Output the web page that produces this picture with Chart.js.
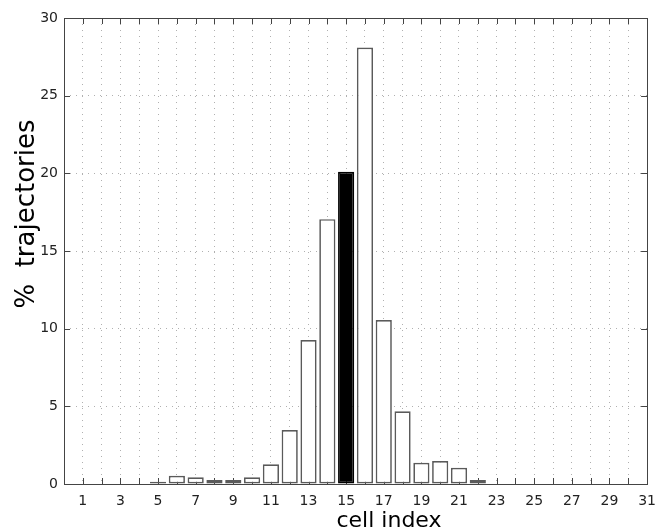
<!DOCTYPE html>
<html>
<head>
<meta charset="utf-8">
<script src="https://cdn.jsdelivr.net/npm/chart.js@4/dist/chart.umd.min.js"></script>
<style>
  html, body { margin: 0; padding: 0; background: #fff; }
  canvas { display: block; }
</style>
</head>
<body>
<canvas id="cellChart" width="665" height="532"></canvas>
<script>
// Cell indices and % of trajectories per cell
const cells = [1, 2, 3, 4, 5, 6, 7, 8, 9, 10, 11, 12, 13, 14, 15, 16, 17, 18, 19, 20, 21, 22, 23, 24, 25, 26, 27, 28, 29, 30];
const percents = [0, 0, 0, 0, 0.15, 0.53, 0.43, 0.26, 0.26, 0.43, 1.27, 3.48, 9.27, 17.05, 20.1, 28.1, 10.56, 4.68, 1.37, 1.48, 1.05, 0.26, 0, 0, 0, 0, 0, 0, 0, 0];
const highlightCell = 15;
const xTitle = 'cell index';
const yTitle = '%  trajectories';

// Inward tick marks (under the bars), box around the plot and the two axis titles
const matlabAxes = {
    id: 'matlabAxes',
    beforeDatasetsDraw(chart) {
        const { ctx, chartArea: a, scales: { x, y } } = chart;
        const len = 6;
        ctx.save();
        ctx.strokeStyle = '#444';
        ctx.lineWidth = 1;
        ctx.beginPath();
        x.ticks.forEach(t => {
            const px = Math.round(x.getPixelForValue(t.value)) + 0.5;
            ctx.moveTo(px, a.bottom); ctx.lineTo(px, a.bottom - len);
            ctx.moveTo(px, a.top); ctx.lineTo(px, a.top + len);
        });
        y.ticks.forEach(t => {
            const py = Math.round(y.getPixelForValue(t.value)) + 0.5;
            ctx.moveTo(a.left, py); ctx.lineTo(a.left + len, py);
            ctx.moveTo(a.right, py); ctx.lineTo(a.right - len, py);
        });
        ctx.stroke();
        ctx.restore();
    },
    afterDatasetsDraw(chart) {
        const { ctx, chartArea: a } = chart;
        ctx.save();
        ctx.strokeStyle = '#444';
        ctx.lineWidth = 1;
        ctx.strokeRect(Math.round(a.left) + 0.5, Math.round(a.top) + 0.5,
            Math.round(a.right - a.left), Math.round(a.bottom - a.top));
        ctx.restore();
    },
    afterDraw(chart) {
        const { ctx } = chart;
        ctx.save();
        ctx.fillStyle = '#000';
        ctx.textAlign = 'center';
        ctx.textBaseline = 'alphabetic';
        ctx.font = '22px "DejaVu Sans"';
        ctx.fillText(xTitle, 389, 527);
        ctx.translate(34, 214);
        ctx.rotate(-Math.PI / 2);
        ctx.font = '26px "DejaVu Sans"';
        ctx.fillText(yTitle, 0, 0);
        ctx.restore();
    }
};

const gridStyle = { color: '#b0b0b0', lineWidth: 1, drawTicks: false, offset: false };

new Chart(document.getElementById('cellChart').getContext('2d'), {
    type: 'bar',
    data: {
        datasets: [{
            data: cells.map((c, i) => ({ x: c, y: percents[i] })),
            backgroundColor: cells.map(c => c === highlightCell ? '#000' : '#fff'),
            borderColor: cells.map(c => c === highlightCell ? '#000' : '#5a5a5a'),
            borderWidth: 1.7,
            borderSkipped: false,
            barPercentage: 0.86,
            categoryPercentage: 1
        }]
    },
    options: {
        responsive: false,
        animation: false,
        devicePixelRatio: 1,
        layout: { padding: { left: 0, right: 9, top: 18, bottom: 0 } },
        plugins: { legend: { display: false }, tooltip: { enabled: false } },
        scales: {
            x: {
                type: 'linear',
                min: 0,
                max: 31,
                offset: false,
                grid: gridStyle,
                border: { display: false, dash: [1, 5] },
                ticks: {
                    stepSize: 1,
                    autoSkip: false,
                    maxRotation: 0,
                    padding: 9,
                    color: '#222',
                    font: { family: 'DejaVu Sans', size: 14 },
                    callback: v => (v % 2 === 1 ? String(v) : '')
                },
                afterFit: s => { s.height = 48; }
            },
            y: {
                min: 0,
                max: 30,
                grid: gridStyle,
                border: { display: false, dash: [1, 5] },
                ticks: {
                    stepSize: 5,
                    padding: 6,
                    color: '#222',
                    font: { family: 'DejaVu Sans', size: 14 }
                },
                afterFit: s => { s.width = 64; }
            }
        }
    },
    plugins: [matlabAxes]
});
</script>
</body>
</html>
